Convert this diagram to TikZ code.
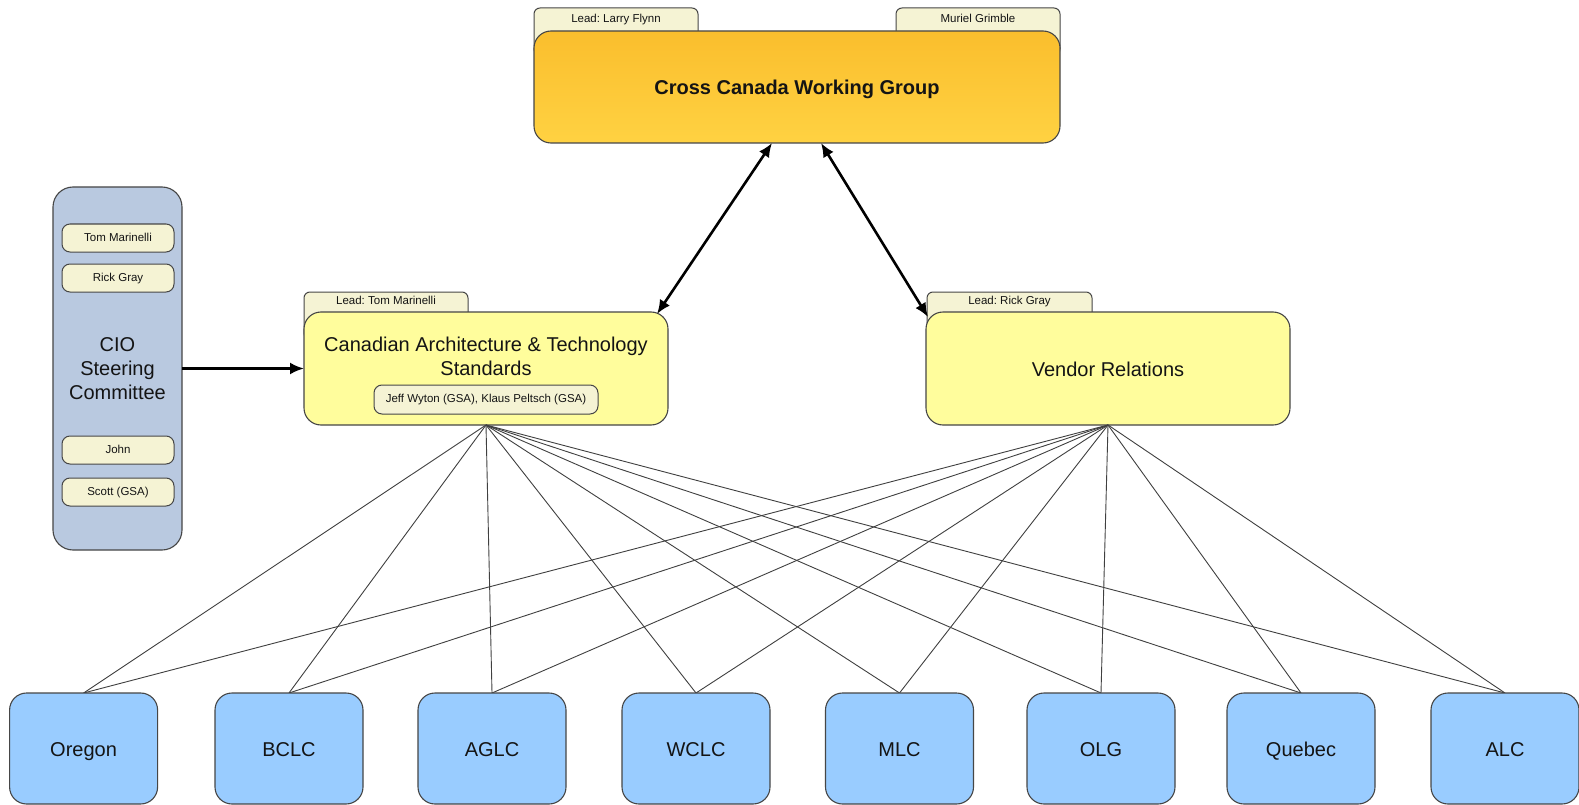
\documentclass[tikz,border=0pt]{standalone}
\usepackage{fontspec}
\setmainfont{Liberation Sans}
\usetikzlibrary{arrows.meta}
\frenchspacing
\definecolor{gold1}{RGB}{250,190,45}
\definecolor{gold2}{RGB}{255,210,66}
\definecolor{paleyellow}{RGB}{255,253,156}
\definecolor{cream}{RGB}{245,243,212}
\definecolor{steel}{RGB}{185,201,224}
\definecolor{skyblue}{RGB}{153,204,255}
\definecolor{edge}{RGB}{70,70,70}
\definecolor{ink}{RGB}{20,20,20}
\tikzset{
  box/.style={draw=edge, line width=1.1pt, rounded corners=17pt, inner sep=0pt, outer sep=0pt},
  big/.style={font=\fontsize{20}{24}\selectfont, text=ink},
  bigline/.style={big, text height=15pt, text depth=0pt},
  small/.style={font=\fontsize{11.5}{13}\selectfont, text=ink, text height=8.5pt, text depth=2.5pt},
  tabbox/.style={draw=edge, line width=1pt, fill=cream, rounded corners=6pt, inner sep=0pt, outer sep=0pt, minimum width=164pt, minimum height=47pt, anchor=north},
  pill/.style={draw=edge, line width=1pt, fill=cream, rounded corners=8pt, inner sep=0pt, outer sep=0pt, small},
  memberpill/.style={pill, minimum width=112pt, minimum height=28pt},
  site/.style={box, fill=skyblue, minimum width=148pt, minimum height=111pt, bigline},
  link/.style={draw=black!75, line width=0.9pt},
  dbl/.style={line width=2.6pt, {Latex[length=14pt,width=12pt]}-{Latex[length=14pt,width=12pt]}},
  one/.style={line width=2.6pt, -{Latex[length=14pt,width=12pt]}},
}
\begin{document}
\begin{tikzpicture}[x=1pt,y=-1pt]
\useasboundingbox (0,0) rectangle (1579,805);
\fill[white] (0,0) rectangle (1579,805);

% tabs (behind main boxes)
\node[tabbox] (tabA) at (616,8) {};
\node[tabbox] (tabB) at (978,8) {};
\node[tabbox] (tabC) at (386,292) {};
\node[tabbox, minimum width=165pt] (tabD) at (1009.5,292) {};

% main boxes
\node[box, top color=gold1, bottom color=gold2, minimum width=526pt, minimum height=112pt,
      font=\bfseries\fontsize{20}{24}\selectfont, text=ink, text height=15pt, text depth=0pt] (cc) at (797,87) {Cross Canada Working Group};
\node[box, fill=steel, minimum width=129pt, minimum height=363pt, rounded corners=20pt,
      big, align=center] (cio) at (117.5,368.5) {CIO\\Steering\\Committee};
\node[box, fill=paleyellow, minimum width=364pt, minimum height=113pt] (cats) at (486,368.5) {};
\node[box, fill=paleyellow, minimum width=364pt, minimum height=113pt, bigline] (vr) at (1108,368.5) {Vendor Relations};

% tab texts
\node[small] (tA) at (616,19.5) {Lead: Larry Flynn};
\node[small] (tB) at (978,19.5) {Muriel Grimble};
\node[small] (tC) at (386,301.5) {Lead: Tom Marinelli};
\node[small] (tD) at (1009.5,301.5) {Lead: Rick Gray};

% CATS content
\node[big, align=center] (catstext) at (486,356) {Canadian Architecture \& Technology\\Standards};
\node[pill, minimum width=224pt, minimum height=29pt] (catspill) at (486,399.5) {Jeff Wyton (GSA), Klaus Peltsch (GSA)};

% CIO members
\node[memberpill] (m1) at (118,238) {Tom Marinelli};
\node[memberpill] (m2) at (118,278) {Rick Gray};
\node[memberpill] (m3) at (118,450) {John};
\node[memberpill] (m4) at (118,492) {Scott (GSA)};

% connectors from CATS and VR to sites
\foreach \n/\x in {oregon/83.6,bclc/289,aglc/492,wclc/696,mlc/899.5,olg/1101,quebec/1301,alc/1505}{
  \coordinate (\n top) at (\x,693);
}
\foreach \n in {oregon,bclc,aglc,wclc,mlc,olg,quebec,alc}{
  \draw[link] (cats.south) -- (\n top);
  \draw[link] (vr.south) -- (\n top);
}

% sites
\node[site] (oregon) at (83.6,748.5) {Oregon};
\node[site] (bclc) at (289,748.5) {BCLC};
\node[site] (aglc) at (492,748.5) {AGLC};
\node[site] (wclc) at (696,748.5) {WCLC};
\node[site] (mlc) at (899.5,748.5) {MLC};
\node[site] (olg) at (1101,748.5) {OLG};
\node[site] (quebec) at (1301,748.5) {Quebec};
\node[site] (alc) at (1505,748.5) {ALC};

% arrows
\coordinate (a1) at (772,143);
\coordinate (a2) at (657,314);
\coordinate (b1) at (821,143);
\coordinate (b2) at (928,317);
\draw[dbl] (a1) -- (a2);
\draw[dbl] (b1) -- (b2);
\draw[one] (cio.east) -- (cats.west);
\end{tikzpicture}
\end{document}
